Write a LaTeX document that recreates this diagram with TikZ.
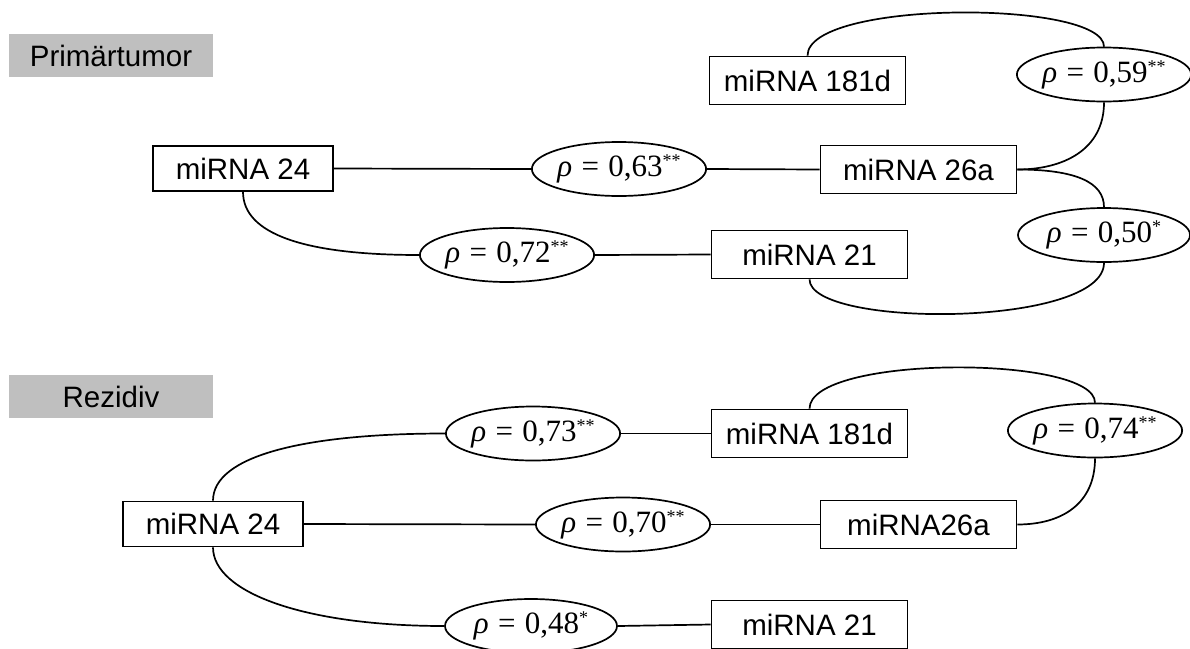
\documentclass[tikz,border=0pt]{standalone}
\usepackage{fontspec}
\setmainfont{Liberation Sans}
\newfontfamily\rhofont{Liberation Serif}
\usetikzlibrary{shapes.geometric}
\newcommand{\corrtext}[2]{{\rhofont\textit{ρ}\hspace{0.3em}=\hspace{0.3em}#1\raisebox{0.32em}{\fontsize{18}{18}\selectfont#2}}}
\tikzset{
  gene/.style={draw, line width=1.7pt, rectangle, inner sep=0pt, minimum width=196pt, minimum height=48pt, font=\fontsize{29.5}{32}\selectfont},
  corr/.style={draw, line width=1.7pt, ellipse, inner sep=0pt, minimum width=172pt, minimum height=54pt, font=\fontsize{31}{33}\selectfont},
  group/.style={fill={rgb,255:red,191;green,191;blue,191}, inner sep=0pt, minimum width=204pt, minimum height=43pt, font=\fontsize{29.5}{32}\selectfont},
  link/.style={line width=1.7pt}
}
\begin{document}
\begin{tikzpicture}[x=1pt,y=1pt]
\useasboundingbox (0,0) rectangle (1190,-648);
% Primaertumor
\node[group] (gp) at (111,-55.5) {Primärtumor};
\node[gene, minimum width=180pt, minimum height=45pt] (p24) at (243,-168.5) {miRNA 24};
\node[gene] (p181) at (807.5,-80.5) {miRNA 181d};
\node[gene] (p26) at (918.5,-169.5) {miRNA 26a};
\node[gene] (p21) at (809.5,-254.5) {miRNA 21};
\node[corr] (e59) at (1104,-74.5) {\corrtext{0,59}{**}};
\node[corr] (e50) at (1104,-235) {\corrtext{0,50}{*}};
\node[corr] (e63) at (619,-169) {\corrtext{0,63}{**}};
\node[corr] (e72) at (507,-255) {\corrtext{0,72}{**}};
\draw[link] (p24.east) -- (e63.west);
\draw[link] (e63.east) -- (p26.west);
\draw[link] (p24.south) .. controls +(0,-42) and +(-115,0) .. (e72.west);
\draw[link] (e72.east) -- (p21.west);
\draw[link] (p181.north) .. controls +(0,56) and +(0,47) .. (e59.north);
\draw[link] (e59.south) .. controls +(0,-48) and +(45,0) .. (p26.east);
\draw[link] (p26.east) .. controls +(58,0) and +(0,25) .. (e50.north);
\draw[link] (e50.south) .. controls +(0,-65) and +(0,-49) .. (p21.south);
% Rezidiv
\node[group] (gr) at (111,-396.5) {Rezidiv};
\node[gene, minimum width=180pt, minimum height=45pt] (r24) at (213,-524) {miRNA 24};
\node[gene] (r181) at (809.5,-433.5) {miRNA 181d};
\node[gene] (r26) at (918.5,-524.5) {miRNA26a};
\node[gene] (r21) at (809.5,-624.5) {miRNA 21};
\node[corr] (e74) at (1095,-430.5) {\corrtext{0,74}{**}};
\node[corr] (e73) at (533,-433.5) {\corrtext{0,73}{**}};
\node[corr] (e70) at (623,-524.5) {\corrtext{0,70}{**}};
\node[corr] (e48) at (531,-626) {\corrtext{0,48}{*}};
\draw[link] (r24.north) .. controls +(0,45) and +(-140,0) .. (e73.west);
\draw[link] (e73.east) -- (r181.west);
\draw[link] (r24.east) -- (e70.west);
\draw[link] (e70.east) -- (r26.west);
\draw[link] (r24.south) .. controls +(0,-45) and +(-140,0) .. (e48.west);
\draw[link] (e48.east) -- (r21.west);
\draw[link] (r181.north) .. controls +(0,54) and +(0,48) .. (e74.north);
\draw[link] (e74.south) .. controls +(0,-45) and +(45,0) .. (r26.east);
\end{tikzpicture}
\end{document}
